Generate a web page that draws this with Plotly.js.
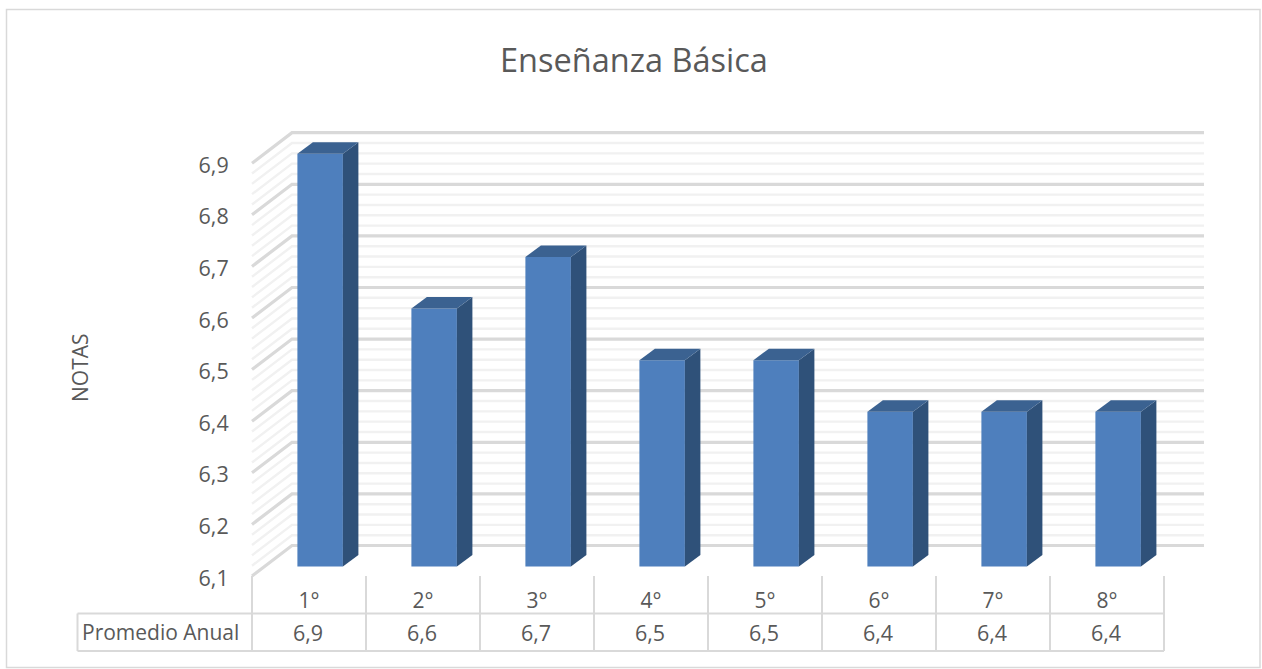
<!DOCTYPE html>
<html>
<head>
<meta charset="utf-8">
<script src="https://cdn.plot.ly/plotly-3.0.1.min.js"></script>
<style>html,body{margin:0;padding:0;background:#fff}#chart{width:1262px;height:669px}</style>
</head>
<body>
<div id="chart"></div>
<script>
// ---- data ----
const categories = ["1°","2°","3°","4°","5°","6°","7°","8°"];
const promedioAnual = [6.9,6.6,6.7,6.5,6.5,6.4,6.4,6.4];
const gradeTicks = [6.1,6.2,6.3,6.4,6.5,6.6,6.7,6.8,6.9];
const chartTitle = "Enseñanza Básica";
const yTitle = "NOTAS";
const rowLabel = "Promedio Anual";

// ---- geometry of the page ----
const W = 1262, H = 669;
const FONT = '"Open Sans", sans-serif', INK = '#595959';
const GRID = '#d9d9d9', MINOR = '#f1f1f1', FRONT = '#4e7fbd', TOP = '#3b6291', SIDE = '#2f5179';
const pxPerCat = 114, pxPerGrade = 516;
const x0px = 252, y0px = 576;            // where category 0 and grade 6.1 sit
const plot = {l:246, r:1204, t:120, b:579};
const px = p => p / W, py = p => 1 - p / H;
const grade0 = gradeTicks[0], gradeEnd = gradeTicks[gradeTicks.length - 1];
const n = categories.length;

const wallDx = 40 / pxPerCat, wallDy = 30.5 / pxPerGrade;     // depth of the floor
const barDx = 15.5 / pxPerCat, barDy = 11.5 / pxPerGrade;     // depth of a bar
const barLift = 9.4 / pxPerGrade;                              // front of the bar over the front edge
const barStart = 45.4 / pxPerCat, barW = 45.5 / pxPerCat;

// ---- back wall and side wall grid, below the traces ----
const shapes = [];
function gridLine(g, color, width){
  shapes.push({type:'path', layer:'below', xref:'x', yref:'y',
    path:`M 0 ${g} L ${wallDx} ${g + wallDy} L ${n + wallDx} ${g + wallDy}`,
    line:{color, width}});
}
const minorLevels = [];
gradeTicks.slice(0,-1).forEach(g => [1,2,3,4].forEach(k => minorLevels.push(g + k * 0.02)));
minorLevels.forEach(g => gridLine(g, MINOR, 2.4));
gradeTicks.forEach(g => gridLine(g, GRID, 3.2));

// ---- data table and chart frame ----
const tableTop = 613.5, tableBottom = 651, tableLeft = 77.5;
const tl = (x0,y0,x1,y1) => shapes.push({type:'line', xref:'paper', yref:'paper', layer:'above',
  x0:px(x0), y0:py(y0), x1:px(x1), y1:py(y1), line:{color:GRID, width:2}});
const tableRight = x0px + n * pxPerCat;
tl(tableLeft, tableTop, tableRight, tableTop);
tl(tableLeft, tableBottom, tableRight, tableBottom);
tl(tableLeft, tableTop, tableLeft, tableBottom);
for (let i = 0; i <= n; i++) tl(x0px + i * pxPerCat, y0px, x0px + i * pxPerCat, tableBottom);
shapes.push({type:'rect', xref:'paper', yref:'paper', layer:'below',
  x0:px(6.5), y0:py(9.5), x1:px(1260), y1:py(667.5), line:{color:GRID, width:1.5}, fillcolor:'rgba(0,0,0,0)'});

// ---- bars ----
const xCenter = categories.map((c,i) => i + barStart + barW / 2);
const traces = [{
  type:'bar', x:xCenter, y:promedioAnual.map(v => v - grade0), base:grade0 + barLift,
  width:barW, marker:{color:FRONT, line:{width:0}}, hoverinfo:'skip'
}];
promedioAnual.forEach((v,i) => {
  const a = i + barStart, b = a + barW, top = v + barLift, bot = grade0 + barLift;
  traces.push({type:'scatter', mode:'lines', fill:'toself', fillcolor:SIDE, line:{width:0}, hoverinfo:'skip',
    x:[b, b + barDx, b + barDx, b, b], y:[bot, bot + barDy, top + barDy, top, bot]});
  traces.push({type:'scatter', mode:'lines', fill:'toself', fillcolor:TOP, line:{width:0}, hoverinfo:'skip',
    x:[a, a + barDx, b + barDx, b, a], y:[top, top + barDy, top + barDy, top, top]});
});

// ---- real text ----
const annotations = [
  {xref:'paper', yref:'paper', x:px(634), y:py(59.5), text:chartTitle, showarrow:false,
   xanchor:'center', yanchor:'middle', font:{family:FONT, size:32.5, color:INK}},
  {xref:'paper', yref:'paper', x:px(80), y:py(368), text:yTitle, showarrow:false, textangle:-90,
   xanchor:'center', yanchor:'middle', font:{family:FONT, size:21, color:INK}},
  {xref:'paper', yref:'paper', x:px(160), y:py(632), text:rowLabel, showarrow:false,
   xanchor:'center', yanchor:'middle', font:{family:FONT, size:21, color:INK}}
];
promedioAnual.forEach((v,i) => annotations.push({
  xref:'x', yref:'paper', x:i + 0.49, y:py(632), text:v.toFixed(1).replace('.', ','), showarrow:false,
  xanchor:'center', yanchor:'middle', font:{family:FONT, size:21.5, color:INK}}));

const layout = {
  width:W, height:H, margin:{l:0,r:0,t:0,b:0}, paper_bgcolor:'#fff', plot_bgcolor:'rgba(0,0,0,0)',
  showlegend:false, separators:', ', hovermode:false,
  xaxis:{domain:[px(plot.l), px(plot.r)],
    range:[(plot.l - x0px) / pxPerCat, (plot.r - x0px) / pxPerCat],
    tickmode:'array', tickvals:categories.map((c,i) => i + 0.5), ticktext:categories,
    showgrid:false, zeroline:false, showline:false, ticks:'outside', ticklen:3, tickcolor:'rgba(0,0,0,0)',
    tickfont:{family:FONT, size:21, color:INK}, fixedrange:true},
  yaxis:{domain:[py(plot.b), py(plot.t)],
    range:[grade0 - (plot.b - y0px) / pxPerGrade, grade0 + (y0px - plot.t) / pxPerGrade],
    tickmode:'array', tickvals:gradeTicks, tickformat:'.1f', ticklabelshift:2,
    showgrid:false, zeroline:false, showline:false, ticks:'outside', ticklen:12, tickcolor:'rgba(0,0,0,0)',
    tickfont:{family:FONT, size:21.5, color:INK}, fixedrange:true},
  shapes, annotations, barmode:'overlay'
};
Plotly.newPlot('chart', traces, layout, {displayModeBar:false, staticPlot:true});
</script>
</body>
</html>
